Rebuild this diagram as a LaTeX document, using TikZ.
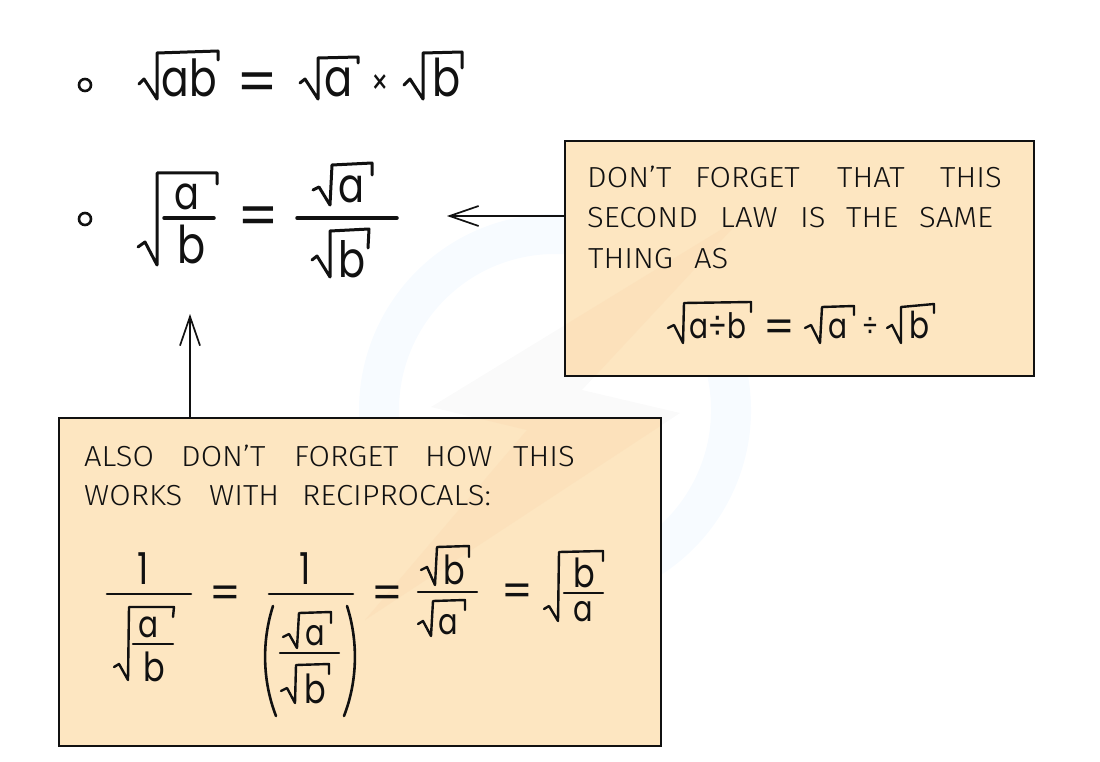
\documentclass[tikz,border=0pt]{standalone}
\usepackage{fontspec}
\usetikzlibrary{arrows.meta}
\newfontfamily\mfont[RawFeature=+ss01,FakeStretch=0.8]{Poppins}
\newfontfamily\eqfont{Poppins}
\newfontfamily\capsf[FakeStretch=1.07]{Fira Sans Light}
\definecolor{boxfill}{HTML}{FDE6C1}
\definecolor{boltin}{HTML}{FCE1BB}
\definecolor{boltout}{HTML}{FAFAFA}
\definecolor{ringc}{HTML}{F7FBFF}
\definecolor{ink}{HTML}{111111}
\tikzset{
  x=1pt,y=-1pt,
  mth/.style={font=\fontsize{#1}{#1}\selectfont\mfont,inner sep=0,anchor=base,text=ink},
  opr/.style={font=\fontsize{#1}{#1}\selectfont\mfont,inner sep=0,anchor=center,text=ink},
  eqn/.style={font=\fontsize{#1}{#1}\selectfont\eqfont,inner sep=0,anchor=center,text=ink,yshift={-0.105pt*#1}},
  rad/.style={draw=ink,line width=#1,line join=round,line cap=round},
  fbar/.style={draw=ink,line width=#1,line cap=round},
  boxbg/.style={fill=boxfill,inner sep=0,anchor=north west},
  boxline/.style={draw=ink,line width=2pt,line join=miter},
  captxt/.style={font=\fontsize{29}{29}\selectfont\capsf,inner sep=0,anchor=base west,text=ink},
  arr/.style={draw=ink,line width=1.7pt,-{Straight Barb[length=#1,width=20pt]}},
  bul/.style={circle,draw=ink,line width=2.6pt,minimum size=12pt,inner sep=0},
}
\newcommand{\boltpath}{(745,215) -- (431,407) -- (527,430) -- (365,620) -- (680,413) -- (582,390) -- cycle}
\newcommand{\w}[2]{\makebox[#1pt][l]{#2}}
\begin{document}
\begin{tikzpicture}
\useasboundingbox (0,0) rectangle (1100,762);
% watermark
\draw[ringc,line width=40pt] (555,410) ++(-45:176) arc[start angle=-45,end angle=-190,radius=176];
\draw[ringc,line width=40pt] (555,410) ++(-12:176) arc[start angle=-12,end angle=130,radius=176];
\fill[boltout] \boltpath;
% boxes
\node[boxbg,minimum width=469pt,minimum height=235pt] (b1) at (565,141) {};
\node[boxbg,minimum width=602pt,minimum height=328pt] (b2) at (59,418) {};
\begin{scope}\clip (b1.north west) rectangle (b1.south east); \fill[boltin] \boltpath;\end{scope}
\begin{scope}\clip (b2.north west) rectangle (b2.south east); \fill[boltin] \boltpath;\end{scope}
\draw[boxline] (b1.north west) rectangle (b1.south east);
\draw[boxline] (b2.north west) rectangle (b2.south east);
% arrows
\coordinate (t1) at (447,216);
\coordinate (t2) at (190,314);
\draw[arr=29pt] (t1 -| b1.west) -- (t1);
\draw[arr=29pt] (t2 |- b2.north) -- (t2);
% bullets
\node[bul] (p1) at (85,85) {};
\node[bul] (p2) at (85,219) {};
% line 1
\draw[rad=3] (139,84)--(144,79)--(157,99)--(157,53)--(218,51)--(218,60);
\node[mth=51] (l1ab) at (189,97) {ab};
\node[eqn=58] (l1eq) at (257.5,82) {=};
\draw[rad=3] (300,83)--(305,79)--(318,99)--(318,58)--(358,57)--(358,63);
\node[mth=52] (l1a) at (339,97) {a};
\node[opr=34] (l1x) at (380.5,85) {×};
\draw[rad=3] (404,85)--(410,79)--(423,99)--(423,53)--(462,52)--(462,68);
\node[mth=52] (l1b) at (447,97) {b};
% line 2
\draw[rad=3] (138,247)--(145,242)--(157,265)--(157,173)--(217,173)--(217,184);
\node[mth=46] (l2a) at (187,210) {a};
\draw[fbar=3.5] (164,218)--(214,218);
\node[mth=52] (l2b) at (192,263) {b};
\node[eqn=58] (l2eq) at (258,216) {=};
\draw[rad=3] (313,190)--(319,187)--(330,205)--(332,165)--(372,163)--(372,175);
\node[mth=48] (l2a2) at (351.5,203) {a};
\draw[fbar=3.5] (297,218)--(397,218);
\draw[rad=3] (312,260)--(317,256)--(330,277)--(330,231)--(369,229)--(368,248);
\node[mth=50] (l2b2) at (352.5,277) {b};
% box 1 text
\node[captxt] (c1) at (587,188) {\w{108}{DON’T}\w{142}{FORGET}\w{103}{THAT}THIS};
\node[captxt] (c2) at (587,228) {\w{133}{SECOND}\w{80}{LAW}\w{46}{IS}\w{73}{THE}SAME};
\node[captxt] (c3) at (588,268) {\w{106}{THING}AS};
% box 1 math
\draw[rad=2.4] (668,328)--(674,325)--(683,343)--(684,303)--(751,302)--(751,312);
\node[mth=35] (m1) at (718,338) {a÷b};
\node[eqn=44] (m2) at (779,326.5) {=};
\draw[rad=2.4] (805,328)--(811,325)--(820,343)--(822,307)--(854,306)--(854,315);
\node[mth=35] (m3) at (837.5,338) {a};
\node[opr=30] (m4) at (870,327) {÷};
\draw[rad=2.4] (887,328)--(892,325)--(901,343)--(901,307)--(934,304)--(934,313);
\node[mth=37] (m5) at (919.5,338) {b};
% box 2 text
\node[captxt] (d1) at (84,466) {\w{97}{ALSO}\w{113}{DON’T}\w{131}{FORGET}\w{88}{HOW}THIS};
\node[captxt] (d2) at (84,505) {\w{125}{WORKS}\w{93}{WITH}RECIPROCALS:};
% box 2 math
\node[mth=44] (n1) at (143,584) {1};
\draw[fbar=2.6] (107,594)--(191,594);
\draw[rad=2.4] (114,667)--(119,664)--(128,680)--(129,607)--(174,607)--(173,617);
\node[mth=37] (n2) at (148.5,637) {a};
\draw[fbar=2.4] (133,644)--(173,644);
\node[mth=40] (n3) at (154,681) {b};
\node[eqn=44] (n4) at (225,592.5) {=};
\node[mth=44] (n5) at (305.5,584) {1};
\draw[fbar=2.6] (269,594)--(353,594);
\draw[rad=2.6] (273,606) .. controls (262,640) and (262,680) .. (276,716);
\draw[rad=2.6] (347,606) .. controls (358,640) and (358,680) .. (344,716);
\draw[rad=2.4] (283,637)--(289,634)--(297,648)--(299,613)--(331,612)--(331,623);
\node[mth=36] (n6) at (315.5,645) {a};
\draw[fbar=2.4] (280,653)--(339,653);
\draw[rad=2.4] (281,691)--(287,688)--(295,703)--(296,665)--(329,664)--(329,674);
\node[mth=40] (n7) at (315,703) {b};
\node[eqn=44] (n8) at (387,593) {=};
\draw[rad=2.4] (421,570)--(427,567)--(435,585)--(437,547)--(469,546)--(469,557);
\node[mth=40] (n9) at (454,584) {b};
\draw[fbar=2.4] (418,592)--(477,592);
\draw[rad=2.4] (418,624)--(423,621)--(431,636)--(433,601)--(465,600)--(465,610);
\node[mth=36] (n10) at (448.5,634) {a};
\node[eqn=44] (n11) at (517,591) {=};
\draw[rad=2.4] (544,609)--(549,606)--(558,621)--(559,552)--(603,551)--(603,561);
\node[mth=40] (n12) at (584,587) {b};
\draw[fbar=2.4] (564,593)--(603,593);
\node[mth=36] (n13) at (583,621) {a};
\end{tikzpicture}
\end{document}
